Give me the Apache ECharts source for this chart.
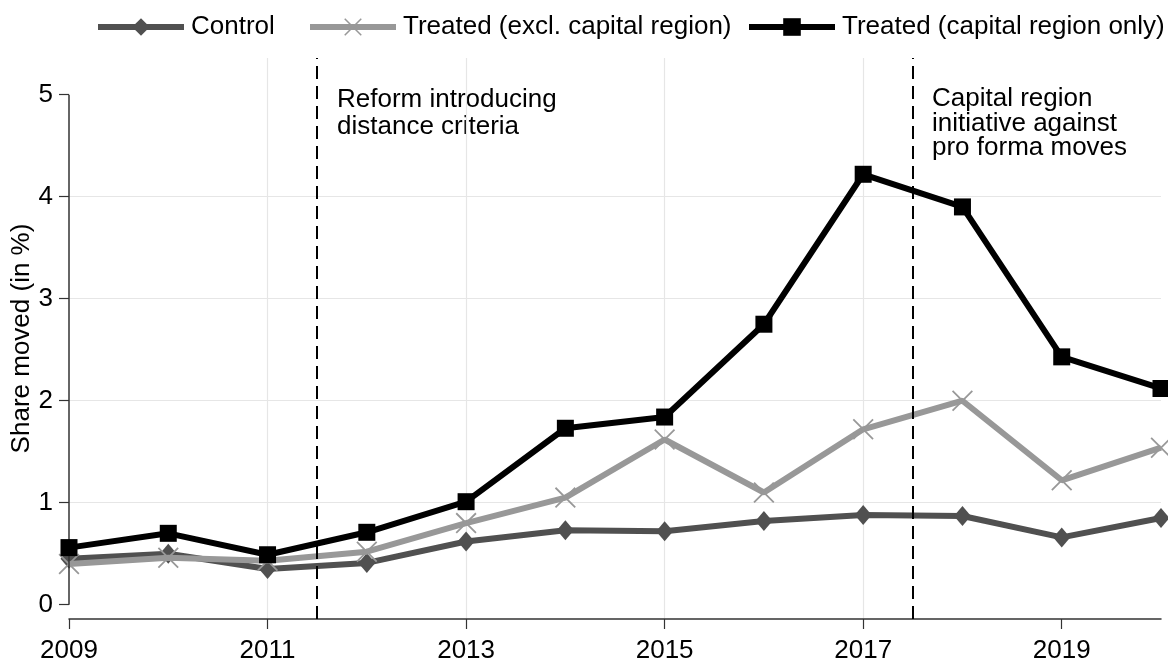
<!DOCTYPE html>
<html>
<head>
<meta charset="utf-8">
<script src="https://cdn.jsdelivr.net/npm/echarts@6/dist/echarts.min.js"></script>
<style>html,body{margin:0;padding:0;background:#fff}#c{width:1168px;height:661px}</style>
</head>
<body>
<div id="c"></div>
<script>
var years = [2009,2010,2011,2012,2013,2014,2015,2016,2017,2018,2019,2020];
var control = [0.45,0.50,0.35,0.41,0.62,0.73,0.72,0.82,0.88,0.87,0.66,0.85];
var treatedExcl = [0.40,0.46,0.43,0.52,0.80,1.05,1.62,1.10,1.72,2.00,1.22,1.54];
var treatedCapital = [0.56,0.70,0.49,0.71,1.01,1.73,1.84,2.75,4.22,3.90,2.43,2.12];
var seriesNames = ['Control','Treated (excl. capital region)','Treated (capital region only)'];
var xTickYears = [2009,2011,2013,2015,2017,2019];
var yTicks = [0,1,2,3,4,5];
var eventYears = [2011.5, 2017.5];
var yAxisTitle = 'Share moved (in %)';
var annotations = ['Reform introducing\ndistance criteria','Capital region\ninitiative against\npro forma moves'];

var BASE = 2009;
function pts(vals){ return years.map(function(y,i){ return [y-BASE, vals[i]]; }); }
var FONT = '"Liberation Sans", Arial, Helvetica, sans-serif';
var xSym = 'path://M0,0.6 L0.6,0 L10,9.4 L9.4,10 Z M9.4,0 L10,0.6 L0.6,10 L0,9.4 Z';
var legendLefts = [90, 302, 741];

function legendFor(i){
  return {
    top:9, left:legendLefts[i], itemWidth:86, itemHeight:22, itemGap:0,
    lineStyle:{width:6},
    textStyle:{fontSize:26, color:'#000', fontFamily:FONT, padding:[0,0,0,2]},
    data:[seriesNames[i]]
  };
}

var chart = echarts.init(document.getElementById('c'), null, {renderer:'canvas'});
chart.setOption({
  animation:false,
  backgroundColor:'#fff',
  textStyle:{fontFamily:FONT},
  grid:{left:69, right:7, top:58, bottom:42, outerBoundsMode:'none', containLabel:false},
  legend:[legendFor(0), legendFor(1), legendFor(2)],
  xAxis:{
    type:'value', min:0, max:years[years.length-1]-BASE, interval:2,
    axisLine:{show:true, onZero:false, lineStyle:{color:'#333', width:1.5}},
    axisTick:{show:true, length:10, customValues:xTickYears.map(function(y){return y-BASE;}), lineStyle:{color:'#333', width:1.2}},
    axisLabel:{fontSize:26, color:'#000', margin:19, customValues:xTickYears.map(function(y){return y-BASE;}),
      formatter:function(v){ return String(v+BASE); }},
    splitLine:{show:true, showMinLine:false, showMaxLine:false, lineStyle:{color:'#e6e6e6', width:1.2}}
  },
  yAxis:{
    type:'value', min:-0.14, max:5.36,
    name:yAxisTitle, nameLocation:'middle', nameGap:34, nameRotate:90, nameMoveOverlap:false,
    nameTextStyle:{fontSize:26, color:'#000', fontFamily:FONT},
    axisLine:{show:false},
    axisTick:{show:true, length:10, customValues:yTicks, lineStyle:{color:'#333', width:1.2}},
    axisLabel:{fontSize:26, color:'#000', margin:16, customValues:yTicks},
    splitLine:{show:true, showMinLine:false, showMaxLine:false, lineStyle:{color:'#e6e6e6', width:1.2}}
  },
  series:[
    {
      name:seriesNames[0], type:'line', data:pts(control),
      symbol:'diamond', symbolSize:[17,20],
      lineStyle:{color:'#505050', width:6}, itemStyle:{color:'#505050'},
      z:3,
      markLine:{
        silent:true, symbol:'none', animation:false,
        label:{show:false},
        lineStyle:{color:'#000', type:[13,7], width:2},
        data:eventYears.map(function(e){ return {xAxis:e-BASE}; }).concat([
          [{coord:[0,yTicks[0]], lineStyle:{type:'solid', color:'#333', width:1.5}},
           {coord:[0,yTicks[yTicks.length-1]]}]
        ])
      }
    },
    {
      name:seriesNames[1], type:'line', data:pts(treatedExcl),
      symbol:xSym, symbolSize:21,
      lineStyle:{color:'#989898', width:6}, itemStyle:{color:'#989898'},
      z:4
    },
    {
      name:seriesNames[2], type:'line', data:pts(treatedCapital),
      symbol:'rect', symbolSize:17,
      lineStyle:{color:'#000', width:6}, itemStyle:{color:'#000'},
      z:5
    }
  ],
  graphic:[
    {type:'text', left:337, top:86, style:{text:annotations[0], font:'26px '+FONT, fill:'#000', lineHeight:27}},
    {type:'text', left:932, top:86, style:{text:annotations[1], font:'26px '+FONT, fill:'#000', lineHeight:24.5}}
  ]
});
</script>
</body>
</html>
